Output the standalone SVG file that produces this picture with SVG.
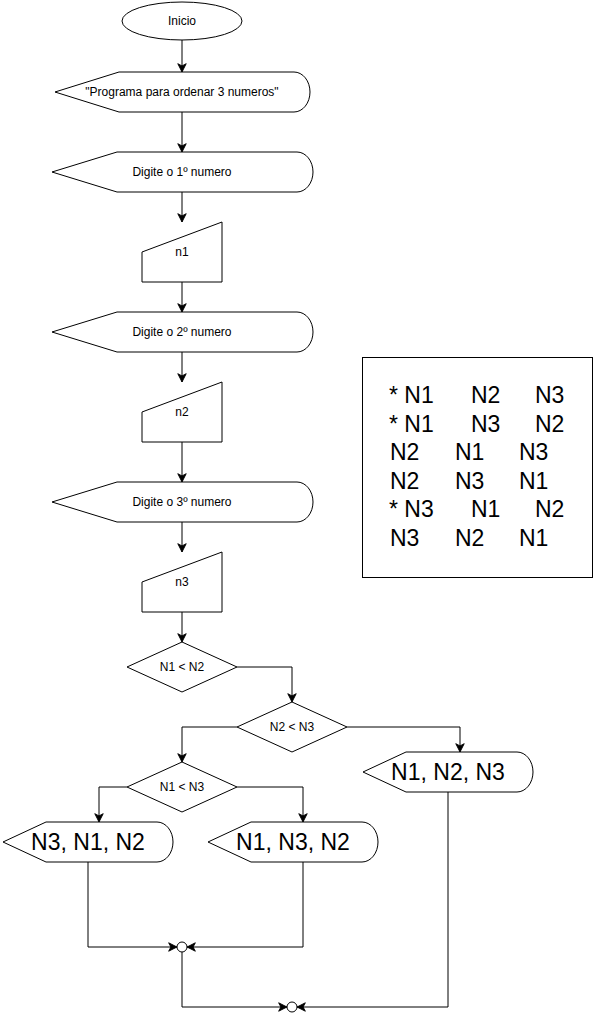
<svg xmlns="http://www.w3.org/2000/svg" width="595" height="1018" viewBox="0 0 595 1018">
<style>
.s{fill:#fff;stroke:#000;stroke-width:1}
.t{font-family:"Liberation Sans",Arial,sans-serif;font-size:12px;fill:#000;text-anchor:middle}
.b{font-family:"Liberation Sans",Arial,sans-serif;font-size:23px;fill:#000;text-anchor:middle}
.r{font-family:"Liberation Sans",Arial,sans-serif;font-size:23px;fill:#000}
.c{fill:none;stroke:#000;stroke-width:1}
</style>
<defs>
<marker id="a" markerUnits="userSpaceOnUse" markerWidth="10" markerHeight="10" viewBox="-8 -4 9 8" refX="0" refY="0" orient="auto">
<path d="M-7.5,-3.8 L0,0 L-7.5,3.8 L-5.5,0 Z" fill="#000" stroke="#000" stroke-width="0.8"/>
</marker>
</defs>
<g id="connectors">
<path class="c" d="M182,40 V72" marker-end="url(#a)"/>
<path class="c" d="M182,112 V152" marker-end="url(#a)"/>
<path class="c" d="M182,192 V222" marker-end="url(#a)"/>
<path class="c" d="M182,282 V312" marker-end="url(#a)"/>
<path class="c" d="M182,352 V382" marker-end="url(#a)"/>
<path class="c" d="M182,442 V482" marker-end="url(#a)"/>
<path class="c" d="M182,522 V552" marker-end="url(#a)"/>
<path class="c" d="M182,612 V642" marker-end="url(#a)"/>
<path class="c" d="M237,667 H292 V702" marker-end="url(#a)"/>
<path class="c" d="M237,727 H182 V762" marker-end="url(#a)"/>
<path class="c" d="M347,727 H460 V752" marker-end="url(#a)"/>
<path class="c" d="M127,787 H99 V822" marker-end="url(#a)"/>
<path class="c" d="M237,787 H303 V822" marker-end="url(#a)"/>
<path class="c" d="M88,862 V947 H177" marker-end="url(#a)"/>
<path class="c" d="M303,862 V947 H187" marker-end="url(#a)"/>
<path class="c" d="M182,952 V1007 H287" marker-end="url(#a)"/>
<path class="c" d="M448,792 V1007 H297" marker-end="url(#a)"/>
</g>
<g id="inicio">
<ellipse class="s" cx="182" cy="21" rx="60" ry="19"/>
<text class="t" x="182" y="25">Inicio</text>
</g>
<g id="msg">
<path class="s" d="M55,92 L119,72 L294,72 A16 20 0 0 1 310,92 A16 20 0 0 1 294,112 L119,112 Z"/>
<text class="t" x="182" y="96">"Programa para ordenar 3 numeros"</text>
</g>
<g id="d1">
<path class="s" d="M52,172 L117,152 L297,152 A16 20 0 0 1 313,172 A16 20 0 0 1 297,192 L117,192 Z"/>
<text class="t" x="182" y="176">Digite o 1º numero</text>
</g>
<g id="n1">
<path class="s" d="M142,252 L222,222 L222,282 L142,282 Z"/>
<text class="t" x="182" y="256">n1</text>
</g>
<g id="d2">
<path class="s" d="M52,332 L117,312 L297,312 A16 20 0 0 1 313,332 A16 20 0 0 1 297,352 L117,352 Z"/>
<text class="t" x="182" y="336">Digite o 2º numero</text>
</g>
<g id="n2">
<path class="s" d="M142,412 L222,382 L222,442 L142,442 Z"/>
<text class="t" x="182" y="416">n2</text>
</g>
<g id="d3">
<path class="s" d="M52,502 L117,482 L297,482 A16 20 0 0 1 313,502 A16 20 0 0 1 297,522 L117,522 Z"/>
<text class="t" x="182" y="506">Digite o 3º numero</text>
</g>
<g id="n3">
<path class="s" d="M142,582 L222,552 L222,612 L142,612 Z"/>
<text class="t" x="182" y="586">n3</text>
</g>
<g id="q1">
<path class="s" d="M182,642 L237,667 L182,692 L127,667 Z"/>
<text class="t" x="182" y="671">N1 &lt; N2</text>
</g>
<g id="q2">
<path class="s" d="M292,702 L347,727 L292,752 L237,727 Z"/>
<text class="t" x="292" y="731">N2 &lt; N3</text>
</g>
<g id="q3">
<path class="s" d="M182,762 L237,787 L182,812 L127,787 Z"/>
<text class="t" x="182" y="791">N1 &lt; N3</text>
</g>
<g id="o123">
<path class="s" d="M363,772 L406,752 L517,752 A16 20 0 0 1 533,772 A16 20 0 0 1 517,792 L406,792 Z"/>
<text class="b" x="448" y="780">N1, N2, N3</text>
</g>
<g id="o312">
<path class="s" d="M3,842 L46,822 L157,822 A16 20 0 0 1 173,842 A16 20 0 0 1 157,862 L46,862 Z"/>
<text class="b" x="88" y="850">N3, N1, N2</text>
</g>
<g id="o132">
<path class="s" d="M208,842 L251,822 L362,822 A16 20 0 0 1 378,842 A16 20 0 0 1 362,862 L251,862 Z"/>
<text class="b" x="293" y="850">N1, N3, N2</text>
</g>
<g id="j1">
<circle class="s" cx="182" cy="947" r="5"/>
</g>
<g id="j2">
<circle class="s" cx="292" cy="1007" r="5"/>
</g>
<g id="note">
<rect class="s" x="362.5" y="357.5" width="230" height="220"/>
<text class="r" y="403"><tspan x="389">* N1</tspan><tspan x="471">N2</tspan><tspan x="535">N3</tspan></text>
<text class="r" y="432"><tspan x="389">* N1</tspan><tspan x="471">N3</tspan><tspan x="535">N2</tspan></text>
<text class="r" y="460"><tspan x="390">N2</tspan><tspan x="455">N1</tspan><tspan x="519">N3</tspan></text>
<text class="r" y="489"><tspan x="390">N2</tspan><tspan x="455">N3</tspan><tspan x="519">N1</tspan></text>
<text class="r" y="517"><tspan x="389">* N3</tspan><tspan x="471">N1</tspan><tspan x="535">N2</tspan></text>
<text class="r" y="546"><tspan x="390">N3</tspan><tspan x="455">N2</tspan><tspan x="519">N1</tspan></text>
</g>
</svg>
